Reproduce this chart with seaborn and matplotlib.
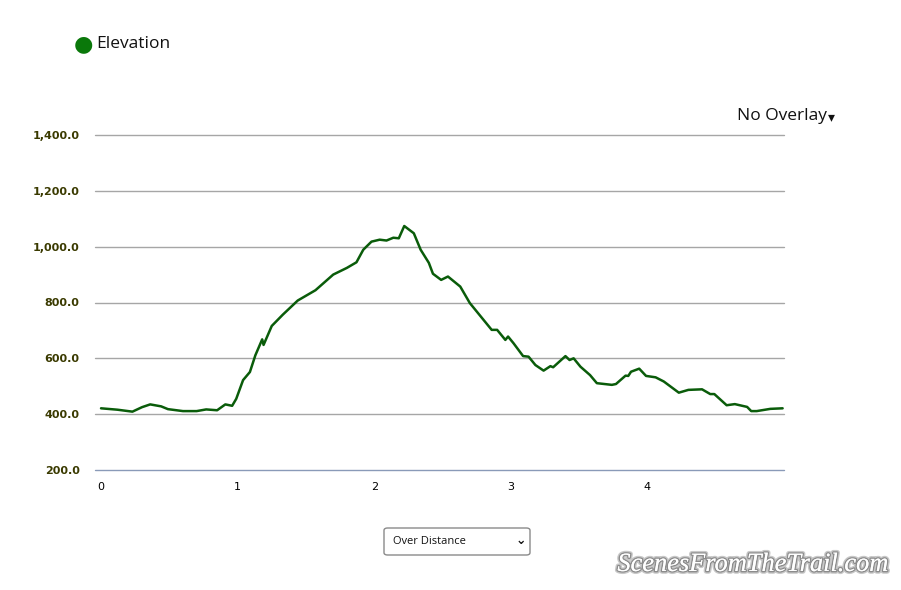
import matplotlib
matplotlib.use("Agg")
import matplotlib.pyplot as plt
import matplotlib.patheffects as pe
from matplotlib.patches import FancyBboxPatch
import seaborn as sns
import pandas as pd

# data (distance in miles, elevation in feet)
distance = [0.00, 0.12, 0.23, 0.30, 0.36, 0.44, 0.49, 0.60, 0.70, 0.77, 0.85, 0.91,
            0.96, 0.99, 1.04, 1.09, 1.13, 1.18, 1.19, 1.25, 1.33, 1.44, 1.57, 1.70,
            1.80, 1.87, 1.92, 1.98, 2.04, 2.09, 2.14, 2.18, 2.22, 2.29, 2.34, 2.40,
            2.43, 2.49, 2.54, 2.63, 2.70, 2.77, 2.86, 2.90, 2.96, 2.98, 3.02, 3.09,
            3.13, 3.18, 3.24, 3.29, 3.31, 3.40, 3.43, 3.46, 3.51, 3.58, 3.63, 3.74,
            3.77, 3.84, 3.86, 3.88, 3.94, 3.99, 4.06, 4.12, 4.23, 4.30, 4.40, 4.46,
            4.49, 4.58, 4.64, 4.73, 4.76, 4.80, 4.90, 4.99]
elevation = [421, 416, 409, 425, 435, 428, 418, 411, 411, 417, 414, 435,
             430, 455, 522, 551, 611, 668, 648, 716, 756, 807, 844, 900,
             924, 944, 989, 1018, 1025, 1022, 1032, 1030, 1074, 1048, 989, 942,
             903, 881, 893, 857, 798, 756, 702, 702, 666, 678, 654, 608,
             606, 576, 556, 572, 568, 608, 594, 600, 570, 540, 511, 505,
             508, 538, 537, 552, 563, 537, 532, 517, 477, 487, 489, 472,
             472, 432, 436, 426, 411, 411, 419, 421]
y_ticks = [200, 400, 600, 800, 1000, 1200, 1400]
x_ticks = [0, 1, 2, 3, 4]

df = pd.DataFrame({"distance": distance, "elevation": elevation})

sns.set_style("white")
fig = plt.figure(figsize=(9.01, 5.90), dpi=100)
ax = fig.add_axes([95 / 901, 1 - 470 / 590, (784 - 95) / 901, (470 - 135) / 590])

sns.lineplot(data=df, x="distance", y="elevation", ax=ax, color="#0a5c0a",
             linewidth=1.8, zorder=3)

ax.set_xlim(-0.044, 5.0)
ax.set_ylim(200, 1400)
ax.set_yticks(y_ticks)
ax.set_yticklabels([f"{v:,.1f}" for v in y_ticks], color="#3a3a00", fontsize=8,
                   fontweight="bold", family="DejaVu Sans")
ax.set_xticks(x_ticks)
ax.set_xticklabels([str(v) for v in x_ticks], fontsize=8, color="black")
ax.tick_params(axis="y", length=0, pad=11)
ax.tick_params(axis="x", length=0, pad=9)
ax.set_xlabel("")
ax.set_ylabel("")
for s in ax.spines.values():
    s.set_visible(False)
for v in y_ticks:
    ax.axhline(v, color="#8a9ab8" if v == 200 else "#a6a6a6", linewidth=1.0,
               zorder=1, clip_on=False)

# legend
fig.text(83 / 901, 1 - 44 / 590, "\u25CF", fontsize=16, color="#0a780a",
         ha="center", va="center", family="DejaVu Sans")
fig.text(96 / 901, 1 - 44 / 590, "Elevation", fontsize=12.5, color="#111111",
         ha="left", va="center", family="Open Sans")

# overlay selector
fig.text(737 / 901, 1 - 116 / 590, "No Overlay", fontsize=12.5, color="#111111",
         ha="left", va="center", family="Open Sans")
fig.text(831 / 901, 1 - 117 / 590, "\u25BE", fontsize=10, color="#111111",
         ha="center", va="center", family="DejaVu Sans")

# dropdown box
box = FancyBboxPatch((384 / 901, 1 - 555 / 590), 146 / 901, 27 / 590,
                     boxstyle="round,pad=0,rounding_size=0.004",
                     transform=fig.transFigure, facecolor="white",
                     edgecolor="#8a8a8a", linewidth=1.0)
fig.patches.append(box)
fig.text(393 / 901, 1 - 541 / 590, "Over Distance", fontsize=8, color="#111111",
         ha="left", va="center", family="Open Sans")
fig.text(521 / 901, 1 - 540 / 590, "\u2304", fontsize=9, color="#111111",
         ha="center", va="center", family="DejaVu Sans", fontweight="bold")

# watermark
fig.text(753 / 901, 1 - 565 / 590, "ScenesFromTheTrail.com", fontsize=19,
         color="white", ha="center", va="center", family="Liberation Serif",
         style="italic",
         path_effects=[pe.withStroke(linewidth=4, foreground="#c8c8c8"),
                       pe.withStroke(linewidth=2, foreground="#8c8c8c"),
                       pe.Normal()])

fig.savefig("out.png", dpi=100)
